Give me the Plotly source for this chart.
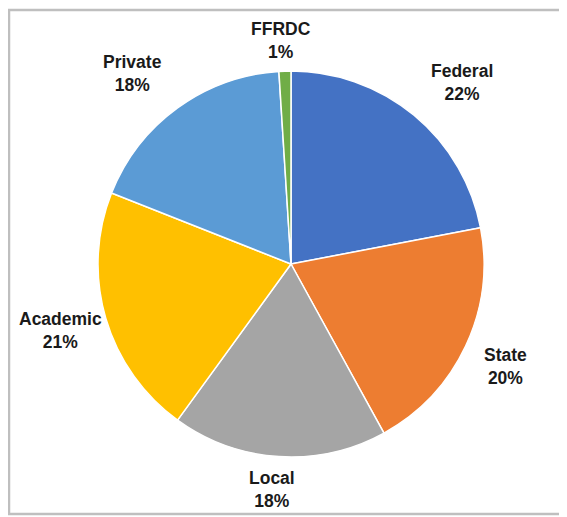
import plotly.graph_objects as go

# Data
labels = ['Federal', 'State', 'Local', 'Academic', 'Private', 'FFRDC']
values = [22, 20, 18, 21, 18, 1]
colors = ['#4472C4', '#ED7D31', '#A5A5A5', '#FFC000', '#5B9BD5', '#70AD47']

# page has an 8px body margin, so size/positions are offset to compensate
OFF = 8
W, H = 567 - OFF, 517 - OFF

# label centre positions in page pixels (x, y of the two-line block)
label_pos = {
    'Federal': (462, 82),
    'State': (505, 366),
    'Local': (272, 489),
    'Academic': (60, 330),
    'Private': (132, 73),
    'FFRDC': (281, 41),
}

# pie placement in page pixels
cx, cy, r = 291 - OFF, 264 - OFF, 193


def px(x):
    return (x - OFF) / W


def py(y):
    return 1 - (y - OFF) / H


fig = go.Figure(go.Pie(
    labels=labels,
    values=values,
    sort=False,
    direction='clockwise',
    rotation=0,
    marker=dict(colors=colors, line=dict(color='white', width=1.5)),
    textinfo='none',
    hoverinfo='label+percent',
    domain=dict(x=[(cx - r) / W, (cx + r) / W],
                y=[1 - (cy + r) / H, 1 - (cy - r) / H]),
    showlegend=False,
))

total = sum(values)
annotations = []
for lab, val in zip(labels, values):
    lx, ly = label_pos[lab]
    pct = round(100 * val / total)
    annotations.append(dict(
        x=px(lx), y=py(ly), xref='paper', yref='paper',
        text=f'<b>{lab}</b><br><b>{pct}%</b>',
        showarrow=False, xanchor='center', yanchor='middle',
        font=dict(family='Liberation Sans, Arial, sans-serif', size=17.5, color='#1a1a1a'),
        align='center',
    ))

fig.update_layout(
    width=W, height=H,
    margin=dict(l=0, r=0, t=0, b=0),
    paper_bgcolor='white',
    annotations=annotations,
    shapes=[dict(type='rect', xref='paper', yref='paper',
                 x0=px(9), x1=1.05, y0=py(514), y1=py(10),
                 line=dict(color='#BFBFBF', width=2.5), fillcolor='rgba(0,0,0,0)')],
)

fig.write_html('out.html')
